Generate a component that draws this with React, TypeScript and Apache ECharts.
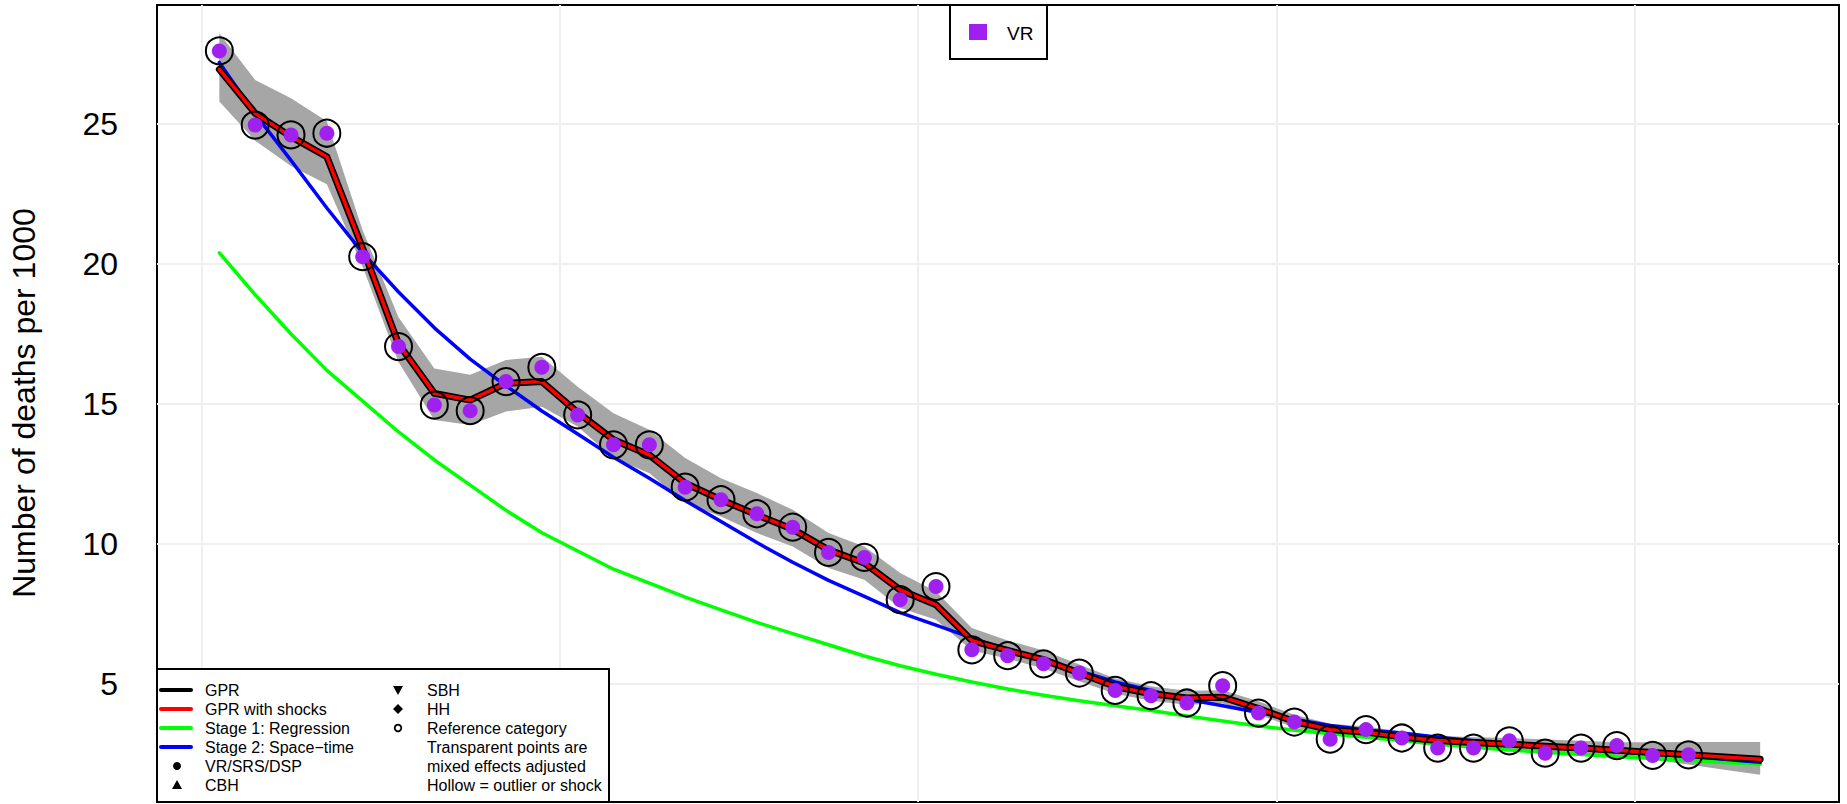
import React, { useEffect, useRef } from "react";
import * as echarts from "echarts";

// ---- data ----
const years = [
  1970, 1971, 1972, 1973, 1974, 1975, 1976, 1977, 1978, 1979,
  1980, 1981, 1982, 1983, 1984, 1985, 1986, 1987, 1988, 1989,
  1990, 1991, 1992, 1993, 1994, 1995, 1996, 1997, 1998, 1999,
  2000, 2001, 2002, 2003, 2004, 2005, 2006, 2007, 2008, 2009,
  2010, 2011, 2012, 2013,
];

const gprWithShocks = [
  26.95, 25.38, 24.55, 23.83, 20.56, 17.15, 15.38, 15.14, 15.74, 15.8,
  14.7, 13.72, 13.18, 12.17, 11.58, 11.04, 10.53, 9.79, 9.32, 8.36,
  7.83, 6.55, 6.2, 5.87, 5.39, 4.91, 4.65, 4.5, 4.53, 4.12,
  3.66, 3.37, 3.28, 3.11, 2.98, 2.91, 2.85, 2.78, 2.71, 2.63,
  2.55, 2.47, 2.39, 2.31,
];

const gpr = [
  26.95, 25.38, 24.55, 23.83, 20.56, 17.15, 15.38, 15.14, 15.74, 15.8,
  14.7, 13.72, 13.18, 12.17, 11.58, 11.04, 10.53, 9.79, 9.32, 8.36,
  7.83, 6.55, 6.2, 5.87, 5.39, 4.91, 4.65, 4.5, 4.53, 4.12,
  3.66, 3.37, 3.28, 3.11, 2.98, 2.91, 2.85, 2.78, 2.71, 2.63,
  2.55, 2.47, 2.39, 2.31,
];

const gprUpper = [
  28.24, 26.57, 25.92, 25.1, 21.2, 18.1, 16.27, 16.04, 16.57, 16.69,
  15.62, 14.67, 14.08, 13.07, 12.35, 11.82, 11.22, 10.39, 9.91, 8.96,
  8.3, 7.0, 6.55, 6.2, 5.7, 5.2, 4.92, 4.76, 4.78, 4.38,
  3.9, 3.58, 3.48, 3.3, 3.15, 3.1, 3.07, 3.02, 2.97, 2.92,
  2.92, 2.93, 2.93, 2.93,
];

const gprLower = [
  25.8, 24.4, 23.5, 22.85, 19.9, 16.5, 14.43, 14.25, 14.73, 14.9,
  14.2, 13.07, 12.53, 11.46, 10.98, 10.39, 9.91, 9.14, 8.72, 7.71,
  7.29, 6.2, 5.9, 5.55, 5.1, 4.65, 4.4, 4.26, 4.3, 3.9,
  3.45, 3.16, 3.08, 2.92, 2.78, 2.72, 2.66, 2.58, 2.5, 2.4,
  2.29, 2.12, 1.94, 1.76,
];

const stage1Regression = [
  20.4, 18.9, 17.5, 16.2, 15.1, 14.0, 13.0, 12.1, 11.2, 10.4,
  9.75, 9.1, 8.6, 8.1, 7.65, 7.2, 6.8, 6.4, 6.0, 5.65,
  5.35, 5.07, 4.82, 4.6, 4.4, 4.22, 4.05, 3.86, 3.68, 3.5,
  3.35, 3.22, 3.1, 2.98, 2.86, 2.74, 2.64, 2.56, 2.48, 2.41,
  2.34, 2.27, 2.2, 2.14,
];

const stage2SpaceTime = [
  27.2, 25.35, 23.7, 22.0, 20.4, 19.0, 17.72, 16.6, 15.65, 14.75,
  13.93, 13.1, 12.35, 11.55, 10.8, 10.05, 9.35, 8.7, 8.13, 7.55,
  7.1, 6.65, 6.22, 5.88, 5.47, 5.07, 4.77, 4.45, 4.22, 3.98,
  3.74, 3.52, 3.36, 3.25, 3.1, 2.97, 2.86, 2.76, 2.67, 2.58,
  2.5, 2.42, 2.31, 2.2,
];

const vrYears = [
  1970, 1971, 1972, 1973, 1974, 1975, 1976, 1977, 1978, 1979,
  1980, 1981, 1982, 1983, 1984, 1985, 1986, 1987, 1988, 1989,
  1990, 1991, 1992, 1993, 1994, 1995, 1996, 1997, 1998, 1999,
  2000, 2001, 2002, 2003, 2004, 2005, 2006, 2007, 2008, 2009,
  2010, 2011,
];

const vrValues = [
  27.61, 24.96, 24.61, 24.67, 20.26, 17.05, 14.96, 14.76, 15.8, 16.31,
  14.61, 13.54, 13.54, 12.03, 11.58, 11.08, 10.6, 9.7, 9.52, 8.01,
  8.48, 6.22, 6.01, 5.72, 5.39, 4.77, 4.58, 4.32, 4.94, 3.96,
  3.64, 3.03, 3.37, 3.07, 2.71, 2.71, 2.97, 2.53, 2.71, 2.8,
  2.45, 2.47,
];

const yTicks = [5, 10, 15, 20, 25];
const xGridYears = [1970, 1980, 1990, 2000, 2010];

const X_MIN = 1968.76;
const X_MAX = 2015.7;
const Y_MIN = 0.785;
const Y_MAX = 29.25;

const FONT = "'Liberation Sans', Arial, Helvetica, sans-serif";

const mid = (y: number) => y + 0.5;
const pairs = (arr: number[]) => years.map((y, i) => [mid(y), arr[i]]);

export default function App() {
  const ref = useRef<HTMLDivElement>(null);

  useEffect(() => {
    if (!ref.current) return;
    const chart = echarts.init(ref.current, null, { renderer: "svg" });

    const legendRows = [690, 709, 728, 747, 766, 785];
    const lineLegend = [
      { color: "#000000", text: "GPR" },
      { color: "#FF0000", text: "GPR with shocks" },
      { color: "#00FF00", text: "Stage 1: Regression" },
      { color: "#0000FF", text: "Stage 2: Space\u2212time" },
    ];
    const textStyle = (text: string, x: number, y: number) => ({
      type: "text",
      x,
      y,
      silent: true,
      style: {
        text,
        fontSize: 16,
        fontFamily: FONT,
        fill: "#000",
        align: "left",
        verticalAlign: "middle",
      },
    });

    const graphic: any[] = [
      // Y axis title
      {
        type: "text",
        x: 24,
        y: 403,
        rotation: Math.PI / 2,
        silent: true,
        style: {
          text: "Number of deaths per 1000",
          fontSize: 32,
          fontFamily: FONT,
          fill: "#000",
          align: "center",
          verticalAlign: "middle",
        },
      },
      // top legend (VR)
      {
        type: "rect",
        shape: { x: 950, y: 5, width: 97, height: 54 },
        style: { fill: "#fff", stroke: "#000", lineWidth: 2 },
        silent: true,
        z: 100,
      },
      {
        type: "rect",
        shape: { x: 969, y: 24, width: 18, height: 16 },
        style: { fill: "#A020F0" },
        silent: true,
        z: 101,
      },
      {
        type: "text",
        x: 1007,
        y: 33,
        z: 101,
        silent: true,
        style: {
          text: "VR",
          fontSize: 19,
          fontFamily: FONT,
          fill: "#000",
          align: "left",
          verticalAlign: "middle",
        },
      },
      // bottom-left legend box
      {
        type: "rect",
        shape: { x: 157, y: 669, width: 452, height: 133 },
        style: { fill: "#fff", stroke: "#000", lineWidth: 2 },
        silent: true,
        z: 100,
      },
    ];

    lineLegend.forEach((l, i) => {
      graphic.push({
        type: "line",
        shape: { x1: 161, y1: legendRows[i], x2: 191, y2: legendRows[i] },
        style: { stroke: l.color, lineWidth: 4, lineCap: "round" },
        silent: true,
        z: 101,
      });
      graphic.push({ ...textStyle(l.text, 205, legendRows[i]), z: 101 });
    });
    graphic.push({
      type: "circle",
      shape: { cx: 177, cy: legendRows[4], r: 4 },
      style: { fill: "#000" },
      silent: true,
      z: 101,
    });
    graphic.push({ ...textStyle("VR/SRS/DSP", 205, legendRows[4]), z: 101 });
    graphic.push({
      type: "polygon",
      shape: {
        points: [
          [177, legendRows[5] - 5],
          [182, legendRows[5] + 4],
          [172, legendRows[5] + 4],
        ],
      },
      style: { fill: "#000" },
      silent: true,
      z: 101,
    });
    graphic.push({ ...textStyle("CBH", 205, legendRows[5]), z: 101 });
    graphic.push({
      type: "polygon",
      shape: {
        points: [
          [393, legendRows[0] - 4],
          [403, legendRows[0] - 4],
          [398, legendRows[0] + 5],
        ],
      },
      style: { fill: "#000" },
      silent: true,
      z: 101,
    });
    graphic.push({ ...textStyle("SBH", 427, legendRows[0]), z: 101 });
    graphic.push({
      type: "polygon",
      shape: {
        points: [
          [398, legendRows[1] - 5],
          [403, legendRows[1]],
          [398, legendRows[1] + 5],
          [393, legendRows[1]],
        ],
      },
      style: { fill: "#000" },
      silent: true,
      z: 101,
    });
    graphic.push({ ...textStyle("HH", 427, legendRows[1]), z: 101 });
    graphic.push({
      type: "circle",
      shape: { cx: 398, cy: legendRows[2], r: 3.3 },
      style: { fill: "none", stroke: "#000", lineWidth: 1.8 },
      silent: true,
      z: 101,
    });
    graphic.push({ ...textStyle("Reference category", 427, legendRows[2]), z: 101 });
    graphic.push({ ...textStyle("Transparent points are", 427, legendRows[3]), z: 101 });
    graphic.push({ ...textStyle("mixed effects adjusted", 427, legendRows[4]), z: 101 });
    graphic.push({ ...textStyle("Hollow = outlier or shock", 427, legendRows[5]), z: 101 });

    const option: any = {
      animation: false,
      backgroundColor: "#ffffff",
      textStyle: { fontFamily: FONT },
      grid: {
        left: 157,
        top: 5,
        width: 1682,
        height: 797,
        show: true,
        borderColor: "#000",
        borderWidth: 2,
        backgroundColor: "transparent",
      },
      xAxis: {
        type: "value",
        min: X_MIN,
        max: X_MAX,
        axisLabel: { show: false },
        axisTick: { show: false },
        axisLine: { show: false },
        splitLine: { show: false },
      },
      yAxis: {
        type: "value",
        min: Y_MIN,
        max: Y_MAX,
        axisLabel: {
          customValues: yTicks,
          fontSize: 32,
          fontFamily: FONT,
          color: "#000",
          margin: 39,
        },
        axisTick: { show: false },
        axisLine: { show: false },
        splitLine: { show: false },
      },
      graphic,
      series: [
        {
          name: "gridlines",
          type: "line",
          z: 1,
          silent: true,
          data: [[X_MIN, Y_MIN]],
          showSymbol: false,
          lineStyle: { width: 0, opacity: 0 },
          markLine: {
            z: 1,
            silent: true,
            symbol: ["none", "none"],
            label: { show: false },
            lineStyle: { color: "#EFEFEF", width: 2, type: "solid" },
            emphasis: { disabled: true },
            data: [
              ...xGridYears.map((v) => ({ xAxis: v })),
              ...yTicks.map((v) => ({ yAxis: v })),
            ],
          },
        },
        {
          name: "GPR uncertainty",
          type: "custom",
          z: 10,
          silent: true,
          data: [[mid(years[0]), gprUpper[0]]],
          renderItem: (_params: any, api: any) => {
            const pts: number[][] = [];
            for (let i = 0; i < years.length; i++) {
              pts.push(api.coord([mid(years[i]), gprUpper[i]]));
            }
            for (let i = years.length - 1; i >= 0; i--) {
              pts.push(api.coord([mid(years[i]), gprLower[i]]));
            }
            return {
              type: "polygon",
              shape: { points: pts },
              style: { fill: "#A6A6A6", stroke: "none" },
            };
          },
        },
        {
          name: "Stage 1: Regression",
          type: "line",
          z: 11,
          silent: true,
          showSymbol: false,
          data: pairs(stage1Regression),
          lineStyle: { color: "#00FF00", width: 3.5, cap: "round", join: "round" },
        },
        {
          name: "Stage 2: Space-time",
          type: "line",
          z: 12,
          silent: true,
          showSymbol: false,
          data: pairs(stage2SpaceTime),
          lineStyle: { color: "#0000FF", width: 3.5, cap: "round", join: "round" },
        },
        {
          name: "GPR",
          type: "line",
          z: 13,
          silent: true,
          showSymbol: false,
          data: pairs(gpr),
          lineStyle: { color: "#000000", width: 7, cap: "round", join: "round" },
        },
        {
          name: "GPR with shocks",
          type: "line",
          z: 14,
          silent: true,
          showSymbol: false,
          data: pairs(gprWithShocks),
          lineStyle: { color: "#FF0000", width: 3.5, cap: "round", join: "round" },
        },
        {
          name: "VR",
          type: "scatter",
          z: 15,
          silent: true,
          symbol: "circle",
          symbolSize: 15,
          data: vrYears.map((y, i) => [mid(y), vrValues[i]]),
          itemStyle: { color: "#A020F0", opacity: 1 },
        },
        {
          name: "VR outlier",
          type: "scatter",
          z: 16,
          silent: true,
          symbol: "circle",
          symbolSize: 27,
          data: vrYears.map((y, i) => [mid(y), vrValues[i]]),
          itemStyle: { color: "rgba(0,0,0,0)", borderColor: "#000", borderWidth: 2, opacity: 1 },
        },
      ],
    };

    chart.setOption(option);
    return () => {
      chart.dispose();
    };
  }, []);

  return (
    <div
      ref={ref}
      style={{ position: "fixed", left: 0, top: 0, width: 1847, height: 804, background: "#fff" }}
    />
  );
}
